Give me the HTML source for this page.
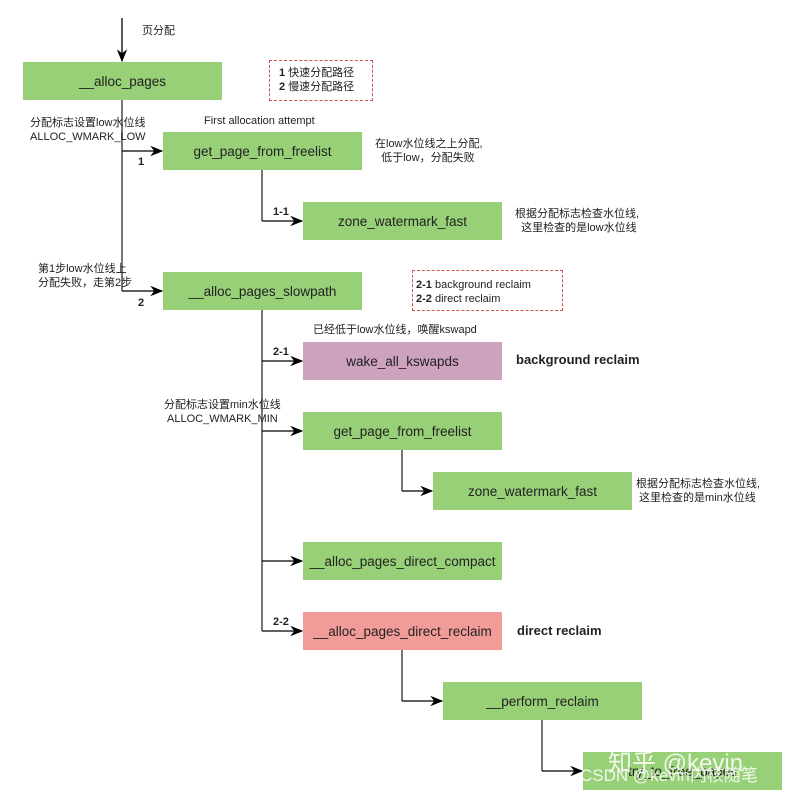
<!DOCTYPE html>
<html><head><meta charset="utf-8"><style>
body{margin:0;width:793px;height:799px;background:#fff;position:relative;overflow:hidden;font-family:"Liberation Sans","Noto Sans CJK SC",sans-serif;color:#222}
.b{position:absolute;width:199px;height:38px;background:#97d077;display:flex;align-items:center;justify-content:center;font-size:13.5px}
.t{position:absolute;font-size:11px;line-height:14px;white-space:nowrap}
.d{position:absolute;border:1px dashed #d05050;font-size:11px;line-height:14px;padding:0 0 0 9px;box-sizing:border-box}
.k{font-weight:bold}
svg{position:absolute;left:0;top:0}
</style></head><body>
<svg width="793" height="799">
<defs><marker id="a" markerWidth="10" markerHeight="8" refX="9" refY="4" orient="auto"><path d="M0,0L10,4L0,8L3,4z" fill="#000"/></marker></defs>
<g stroke="#000" stroke-width="1.3" fill="none">
<path d="M122,18V61" marker-end="url(#a)"/>
<path d="M122,100V291" stroke="#777" stroke-width="2"/>
<path d="M122,151H162" marker-end="url(#a)"/>
<path d="M122,291H162" marker-end="url(#a)"/>
<path d="M262,170V221" stroke="#777" stroke-width="2"/>
<path d="M262,221H302" marker-end="url(#a)"/>
<path d="M262,310V631" stroke="#777" stroke-width="2"/>
<path d="M262,361H302" marker-end="url(#a)"/>
<path d="M262,431H302" marker-end="url(#a)"/>
<path d="M262,561H302" marker-end="url(#a)"/>
<path d="M262,631H302" marker-end="url(#a)"/>
<path d="M402,450V491" stroke="#777" stroke-width="2"/>
<path d="M402,491H432" marker-end="url(#a)"/>
<path d="M402,650V701" stroke="#777" stroke-width="2"/>
<path d="M402,701H442" marker-end="url(#a)"/>
<path d="M542,720V771" stroke="#777" stroke-width="2"/>
<path d="M542,771H582" marker-end="url(#a)"/>
</g></svg>
<div class="t" style="left:142px;top:24px">页分配</div>
<div class="b" style="left:23px;top:62px">__alloc_pages</div>
<div class="d" style="left:269px;top:60px;width:104px;height:41px;padding-top:5px"><span class="k">1</span> 快速分配路径<br><span class="k">2</span> 慢速分配路径</div>
<div class="t" style="left:30px;top:116px">分配标志设置low水位线<br>ALLOC_WMARK_LOW</div>
<div class="t" style="left:204px;top:114px">First allocation attempt</div>
<div class="b" style="left:163px;top:132px">get_page_from_freelist</div>
<div class="t k" style="left:138px;top:155px">1</div>
<div class="t" style="left:375px;top:137px">在low水位线之上分配,<br>&nbsp;&nbsp;低于low，分配失败</div>
<div class="t k" style="left:273px;top:205px">1-1</div>
<div class="b" style="left:303px;top:202px">zone_watermark_fast</div>
<div class="t" style="left:515px;top:207px">根据分配标志检查水位线,<br>&nbsp;&nbsp;这里检查的是low水位线</div>
<div class="t" style="left:38px;top:262px">第1步low水位线上<br>分配失败，走第2步</div>
<div class="b" style="left:163px;top:272px">__alloc_pages_slowpath</div>
<div class="t k" style="left:138px;top:296px">2</div>
<div class="d" style="left:412px;top:270px;width:151px;height:41px;padding:7px 0 0 3px"><span class="k">2-1</span> background reclaim<br><span class="k">2-2</span> direct reclaim</div>
<div class="t" style="left:313px;top:323px">已经低于low水位线，唤醒kswapd</div>
<div class="t k" style="left:273px;top:345px">2-1</div>
<div class="b" style="left:303px;top:342px;background:#cda2be">wake_all_kswapds</div>
<div class="t k" style="left:516px;top:353px;font-size:13px">background reclaim</div>
<div class="t" style="left:164px;top:398px">分配标志设置min水位线<br>&nbsp;ALLOC_WMARK_MIN</div>
<div class="b" style="left:303px;top:412px">get_page_from_freelist</div>
<div class="b" style="left:433px;top:472px">zone_watermark_fast</div>
<div class="t" style="left:636px;top:477px">根据分配标志检查水位线,<br>&nbsp;这里检查的是min水位线</div>
<div class="b" style="left:303px;top:542px">__alloc_pages_direct_compact</div>
<div class="t k" style="left:273px;top:615px">2-2</div>
<div class="b" style="left:303px;top:612px;background:#f19c99">__alloc_pages_direct_reclaim</div>
<div class="t k" style="left:517px;top:624px;font-size:13px">direct reclaim</div>
<div class="b" style="left:443px;top:682px">__perform_reclaim</div>
<div class="b" style="left:583px;top:752px">try_to_free_pages</div>
<div class="t" style="left:608px;top:750px;font-size:24px;line-height:28px;color:rgba(255,255,255,0.85)">知乎 @kevin</div>
<div class="t" style="left:580px;top:766px;font-size:17px;line-height:20px;color:rgba(255,255,255,0.85)">CSDN @kevin内核随笔</div>
</body></html>
